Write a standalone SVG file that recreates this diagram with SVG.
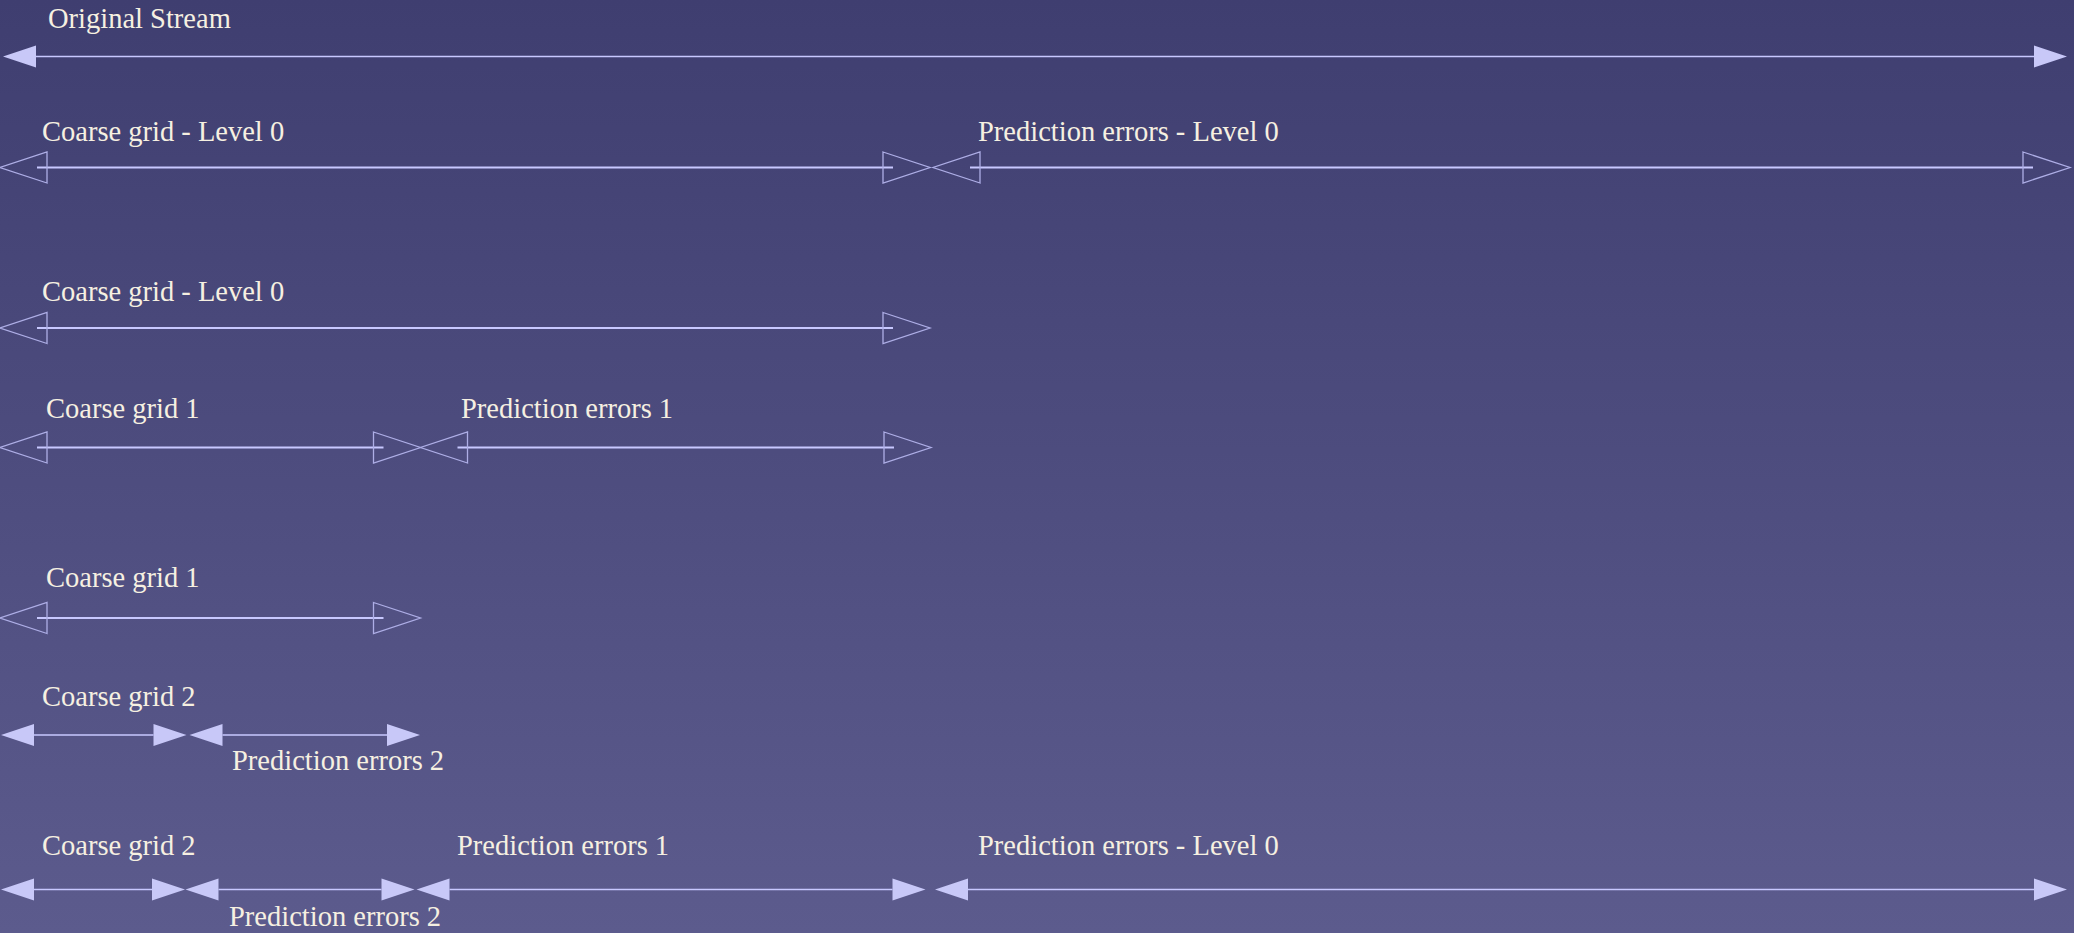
<svg xmlns="http://www.w3.org/2000/svg" width="2074" height="933" viewBox="0 0 2074 933">
  <defs>
    <linearGradient id="bg" x1="0" y1="0" x2="0" y2="1">
      <stop offset="0" stop-color="#3f3e70"/>
      <stop offset="1" stop-color="#5c5b8d"/>
    </linearGradient>
    <!-- solid arrowhead: base at the line end, tip 33px beyond -->
    <marker id="solid" markerUnits="userSpaceOnUse" markerWidth="34" markerHeight="24" viewBox="0 0 34 24" refX="0" refY="12" orient="auto-start-reverse" overflow="visible">
      <path d="M0,1 L33,12 L0,23 Z" fill="#c8c8f8"/>
    </marker>
    <!-- hollow arrowhead: the line reaches 10px past its base -->
    <marker id="hollow" markerUnits="userSpaceOnUse" markerWidth="50" markerHeight="34" viewBox="0 0 50 34" refX="11" refY="17" orient="auto-start-reverse" overflow="visible">
      <path d="M1,1.5 L48,17 L1,32.5 Z" fill="none" stroke="#aeaee6" stroke-width="1.3"/>
    </marker>
  </defs>
  <style>
    .lbl { font-family: "Liberation Serif", "Times New Roman", serif; font-size: 28.5px; fill: #f6f0e1; }
    .seg { stroke: #c8c8ff; stroke-width: 1.6; fill: none; }
    .solid { marker-start: url(#solid); marker-end: url(#solid); }
    .hollow { stroke-width: 2; marker-start: url(#hollow); marker-end: url(#hollow); }
  </style>

  <rect width="2074" height="933" fill="url(#bg)"/>

  <!-- labels, one group per segment -->
  <g id="original-stream"><text class="lbl" x="48" y="28">Original Stream</text></g>
  <g id="coarse-l0-a"><text class="lbl" x="42" y="141">Coarse grid - Level 0</text></g>
  <g id="pred-l0-a"><text class="lbl" x="978" y="141">Prediction errors - Level 0</text></g>
  <g id="coarse-l0-b"><text class="lbl" x="42" y="301">Coarse grid - Level 0</text></g>
  <g id="coarse-1-a"><text class="lbl" x="46" y="418">Coarse grid 1</text></g>
  <g id="pred-1-a"><text class="lbl" x="461" y="418">Prediction errors 1</text></g>
  <g id="coarse-1-b"><text class="lbl" x="46" y="587">Coarse grid 1</text></g>
  <g id="coarse-2-a"><text class="lbl" x="42" y="706">Coarse grid 2</text></g>
  <g id="pred-2-a"><text class="lbl" x="232" y="770">Prediction errors 2</text></g>
  <g id="coarse-2-b"><text class="lbl" x="42" y="855">Coarse grid 2</text></g>
  <g id="pred-2-b"><text class="lbl" x="229" y="926">Prediction errors 2</text></g>
  <g id="pred-1-b"><text class="lbl" x="457" y="855">Prediction errors 1</text></g>
  <g id="pred-l0-b"><text class="lbl" x="978" y="855">Prediction errors - Level 0</text></g>

  <!-- span arrows -->
  <g id="connectors">
    <line class="seg solid" x1="36" y1="56.5" x2="2034" y2="56.5"/>

    <line class="seg hollow" x1="37" y1="167.5" x2="893" y2="167.5"/>
    <line class="seg hollow" x1="970" y1="167.5" x2="2033" y2="167.5"/>

    <line class="seg hollow" x1="37" y1="328" x2="893" y2="328"/>

    <line class="seg hollow" x1="37" y1="447.5" x2="383.5" y2="447.5"/>
    <line class="seg hollow" x1="457.5" y1="447.5" x2="894" y2="447.5"/>

    <line class="seg hollow" x1="37" y1="618" x2="383.5" y2="618"/>

    <line class="seg solid" x1="34" y1="735" x2="153.5" y2="735"/>
    <line class="seg solid" x1="222.5" y1="735" x2="387" y2="735"/>

    <line class="seg solid" x1="34" y1="889.5" x2="152" y2="889.5"/>
    <line class="seg solid" x1="218.5" y1="889.5" x2="381.5" y2="889.5"/>
    <line class="seg solid" x1="449.5" y1="889.5" x2="892.5" y2="889.5"/>
    <line class="seg solid" x1="968" y1="889.5" x2="2034" y2="889.5"/>
  </g>
</svg>
